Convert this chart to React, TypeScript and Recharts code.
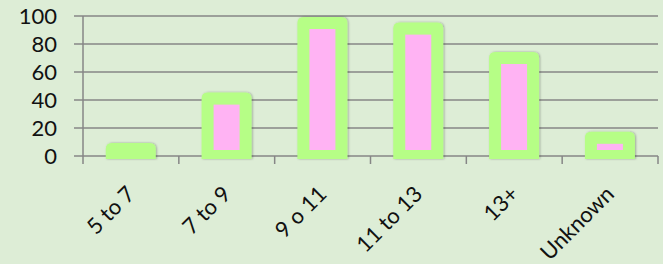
import { BarChart, Bar, XAxis, YAxis, CartesianGrid } from "recharts";

const categories = ["5 to 7", "7 to 9", "9 o 11", "11 to 13", "13+", "Unknown"];
const counts = [5, 41, 95, 91, 70, 13];
const yTicks = [0, 20, 40, 60, 80, 100];

const data = categories.map((name, i) => ({ name, count: counts[i] }));

const BG = "#ddedd6";
const GRID = "#868686";
const GREEN = "#b6fe86";
const PINK = "#ffb3f3";
const FONT = "Lato, 'Open Sans', sans-serif";

const BORDER = 6;

// thick green frame with pink inside, like the original's fat bar border
function FramedBar(props: any) {
  const { x, y, width, height } = props;
  if (width == null || height == null) return null;
  const base = y + height;
  const ox = x - BORDER;
  const oy = y - BORDER;
  const ow = width + BORDER * 2;
  const r = 6;
  const bottom = base + 3;
  const path = `M${ox},${bottom} L${ox},${oy + r} Q${ox},${oy} ${ox + r},${oy} L${ox + ow - r},${oy} Q${ox + ow},${oy} ${ox + ow},${oy + r} L${ox + ow},${bottom} Z`;
  const innerH = height - BORDER * 2;
  return (
    <g>
      <path d={path} fill={GREEN} filter="url(#barShadow)" />
      {innerH > 0 && (
        <rect x={x + BORDER} y={y + BORDER} width={width - BORDER * 2} height={innerH} fill={PINK} />
      )}
    </g>
  );
}

function CategoryTick(props: any) {
  const { x, y, payload, index, visibleTicksCount } = props;
  const half = payload?.offset ?? 48;
  const last = index === (visibleTicksCount ?? categories.length) - 1;
  return (
    <g>
      <line x1={x - half} y1={y} x2={x - half} y2={y + 8} stroke={GRID} strokeWidth={1.5} />
      {last && <line x1={x + half} y1={y} x2={x + half} y2={y + 8} stroke={GRID} strokeWidth={1.5} />}
      <g transform={`translate(${x},${y + 34}) rotate(-45)`}>
        <text textAnchor="end" dy="0.35em" fontSize={22} fontFamily={FONT} fill="#111">
          {payload.value}
        </text>
      </g>
    </g>
  );
}

export default function App() {
  return (
    <div style={{ position: "absolute", left: 0, top: 0, width: 663, height: 264, background: BG }}>
      <BarChart
        width={663}
        height={264}
        data={data}
        margin={{ top: 16, right: 5, bottom: 0, left: 0 }}
        barCategoryGap="30%"
      >
        <defs>
          <filter id="barShadow" x="-20%" y="-20%" width="140%" height="140%">
            <feDropShadow dx="1" dy="0" stdDeviation="1.2" floodColor="#000" floodOpacity="0.3" />
          </filter>
        </defs>
        <CartesianGrid vertical={false} stroke={GRID} strokeWidth={1.5} />
        <XAxis
          dataKey="name"
          axisLine={false}
          tickLine={false}
          tickSize={0}
          tickMargin={0}
          height={108}
          interval={0}
          tick={<CategoryTick />}
        />
        <YAxis
          domain={[0, 100]}
          ticks={yTicks}
          interval={0}
          width={83}
          axisLine={{ stroke: GRID, strokeWidth: 1.5 }}
          tickLine={{ stroke: GRID, strokeWidth: 1.5 }}
          tickSize={9}
          tickMargin={17}
          tick={{ fontSize: 22, fontFamily: FONT, fill: "#111" }}
        />
        <Bar dataKey="count" shape={<FramedBar />} isAnimationActive={false} />
      </BarChart>
    </div>
  );
}
